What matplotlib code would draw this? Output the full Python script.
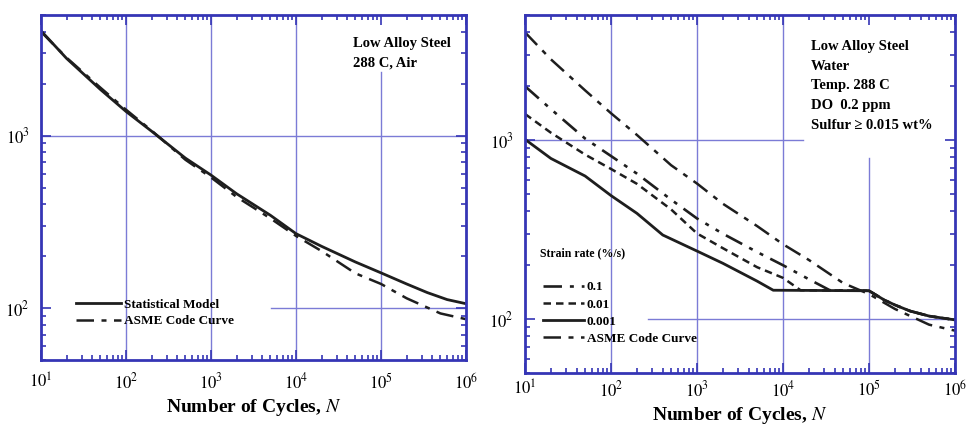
import matplotlib
matplotlib.use('Agg')
import matplotlib.pyplot as plt
from matplotlib.ticker import LogLocator, NullFormatter, FixedLocator

plt.rcParams['font.family'] = ['Liberation Serif', 'DejaVu Serif']
plt.rcParams['mathtext.fontset'] = 'stix'

# ---- data ----
# left panel: air
air_n = [10, 20, 50, 100, 200, 500, 1e3, 2e3, 5e3, 1e4, 2e4, 5e4, 1e5, 2e5, 3.5e5, 6e5, 1e6]
air_stat = [4050, 2800, 1850, 1380, 1060, 740, 590, 460, 345, 270, 228, 185, 160, 138, 123, 112, 106]

asme_n = [10, 20, 50, 100, 200, 500, 1e3, 2e3, 5e3, 1e4, 2e4, 5e4, 1e5, 2e5, 5e5, 1e6]
asme_s = [3999, 2827, 1896, 1413, 1069, 724, 572, 441, 331, 262, 214, 159, 138, 114, 93.1, 86.2]

# right panel: water, three strain rates
tail_n = [1e5, 1.5e5, 2e5, 3e5, 5e5, 1e6]
tail_s = [144, 128, 120, 111, 104, 99]

r01_n = [10, 20, 50, 100, 200, 500, 1e3, 2e3, 5e3, 1e4, 2e4, 3.5e4]
r01_s = [2000, 1490, 1020, 815, 650, 465, 365, 300, 237, 200, 167, 145]

r001_n = [10, 20, 50, 100, 200, 500, 1e3, 2e3, 5e3, 1e4, 1.6e4]
r001_s = [1400, 1100, 830, 690, 570, 410, 301, 249, 195, 170, 145]

r0001_n = [10, 20, 50, 100, 200, 400, 1e3, 2e3, 5e3, 7.7e3]
r0001_s = [1010, 790, 630, 490, 390, 295, 240, 205, 163, 145]

strain_labels = ['0.1', '0.01', '0.001']

xlabels = ['$10^{1}$', '$10^{2}$', '$10^{3}$', '$10^{4}$', '$10^{5}$', '$10^{6}$']
xticks = [1e1, 1e2, 1e3, 1e4, 1e5, 1e6]

frame_col = '#3535b5'
grid_col = '#7b7bd6'
line_col = '#1e1e1e'

st_01 = (0, (7, 3, 1.5, 3, 1.5, 3))
st_001 = (0, (3, 2))
st_asme = (0, (7, 3, 2, 3))


def style_axes(ax, xpad, lpad):
    ax.set_xscale('log')
    ax.set_yscale('log')
    ax.set_xlim(10, 1e6)
    ax.set_ylim(50, 5000)
    for sp in ax.spines.values():
        sp.set_color(frame_col)
        sp.set_linewidth(2.0)
    ax.xaxis.set_major_locator(FixedLocator(xticks))
    ax.set_xticklabels(xlabels)
    ax.yaxis.set_major_locator(FixedLocator([100, 1000]))
    ax.set_yticklabels(['$10^{2}$', '$10^{3}$'])
    ax.xaxis.set_minor_locator(LogLocator(base=10, subs=range(2, 10)))
    ax.yaxis.set_minor_locator(LogLocator(base=10, subs=range(2, 10)))
    ax.xaxis.set_minor_formatter(NullFormatter())
    ax.yaxis.set_minor_formatter(NullFormatter())
    ax.tick_params(which='both', direction='in', top=True, right=True,
                   color=frame_col, width=1.2)
    ax.tick_params(which='major', length=7, labelsize=12)
    ax.tick_params(axis='x', which='major', pad=xpad)
    ax.tick_params(axis='y', which='major', pad=8)
    ax.tick_params(which='minor', length=3.5)
    for lab in ax.get_xticklabels() + ax.get_yticklabels():
        lab.set_fontweight('bold')
    ax.set_xlabel('Number of Cycles, $\\mathit{N}$', fontsize=14,
                  fontweight='bold', labelpad=lpad)


fig = plt.figure(figsize=(9.72, 4.34), dpi=100)

# ---- left panel ----
ax1 = fig.add_axes([41 / 972, 74 / 434, 425 / 972, 345 / 434])
style_axes(ax1, 9, 3)
for x in [1e2, 1e3, 1e4]:
    ax1.axvline(x, color=grid_col, lw=1.0, zorder=0)
ax1.axvline(1e5, ymax=0.835, color=grid_col, lw=1.0, zorder=0)
ax1.axhline(1000, color=grid_col, lw=1.0, zorder=0)
ax1.axhline(100, xmin=0.54, color=grid_col, lw=1.0, zorder=0)

ax1.plot(air_n, air_stat, color=line_col, lw=2.0, label='Statistical Model')
ax1.plot(asme_n, asme_s, color=line_col, lw=1.8, ls=st_asme, label='ASME Code Curve')
ax1.text(0.735, 0.935, 'Low Alloy Steel\n288 C, Air', transform=ax1.transAxes,
         fontsize=10.5, fontweight='bold', va='top', ha='left', linespacing=1.65)
ax1.legend(loc='lower left', bbox_to_anchor=(0.055, 0.06), frameon=False,
           handlelength=3.4, handletextpad=0.2, labelspacing=0.35,
           prop={'weight': 'bold', 'size': 9.5})

# ---- right panel ----
ax2 = fig.add_axes([525 / 972, 61 / 434, 430 / 972, 358 / 434])
style_axes(ax2, 5, 4)
for x in [1e2, 1e3, 1e4]:
    ax2.axvline(x, color=grid_col, lw=1.0, zorder=0)
ax2.axvline(1e5, ymax=0.60, color=grid_col, lw=1.0, zorder=0)
ax2.axhline(1000, xmax=0.647, color=grid_col, lw=1.0, zorder=0)
ax2.axhline(100, xmin=0.286, color=grid_col, lw=1.0, zorder=0)

ax2.plot(r01_n + tail_n, r01_s + tail_s, color=line_col, lw=1.9, ls=st_01,
         label=strain_labels[0])
ax2.plot(r001_n + tail_n, r001_s + tail_s, color=line_col, lw=1.8, ls=st_001,
         label=strain_labels[1])
ax2.plot(r0001_n + tail_n, r0001_s + tail_s, color=line_col, lw=2.0,
         label=strain_labels[2])
ax2.plot(asme_n, asme_s, color=line_col, lw=1.8, ls=st_asme, label='ASME Code Curve')

ax2.text(0.665, 0.93,
         'Low Alloy Steel\nWater\nTemp. 288 C\nDO  0.2 ppm\nSulfur \u2265 0.015 wt%',
         transform=ax2.transAxes, fontsize=10.5, fontweight='bold',
         va='top', ha='left', linespacing=1.67)
ax2.text(0.035, 0.335, 'Strain rate (%/s)', transform=ax2.transAxes,
         fontsize=8.5, fontweight='bold', va='center', ha='left')
ax2.legend(loc='lower left', bbox_to_anchor=(0.015, 0.045), frameon=False,
           handlelength=3.1, handletextpad=0.2, labelspacing=0.38,
           prop={'weight': 'bold', 'size': 9.5})

fig.savefig('out.png', dpi=100)
